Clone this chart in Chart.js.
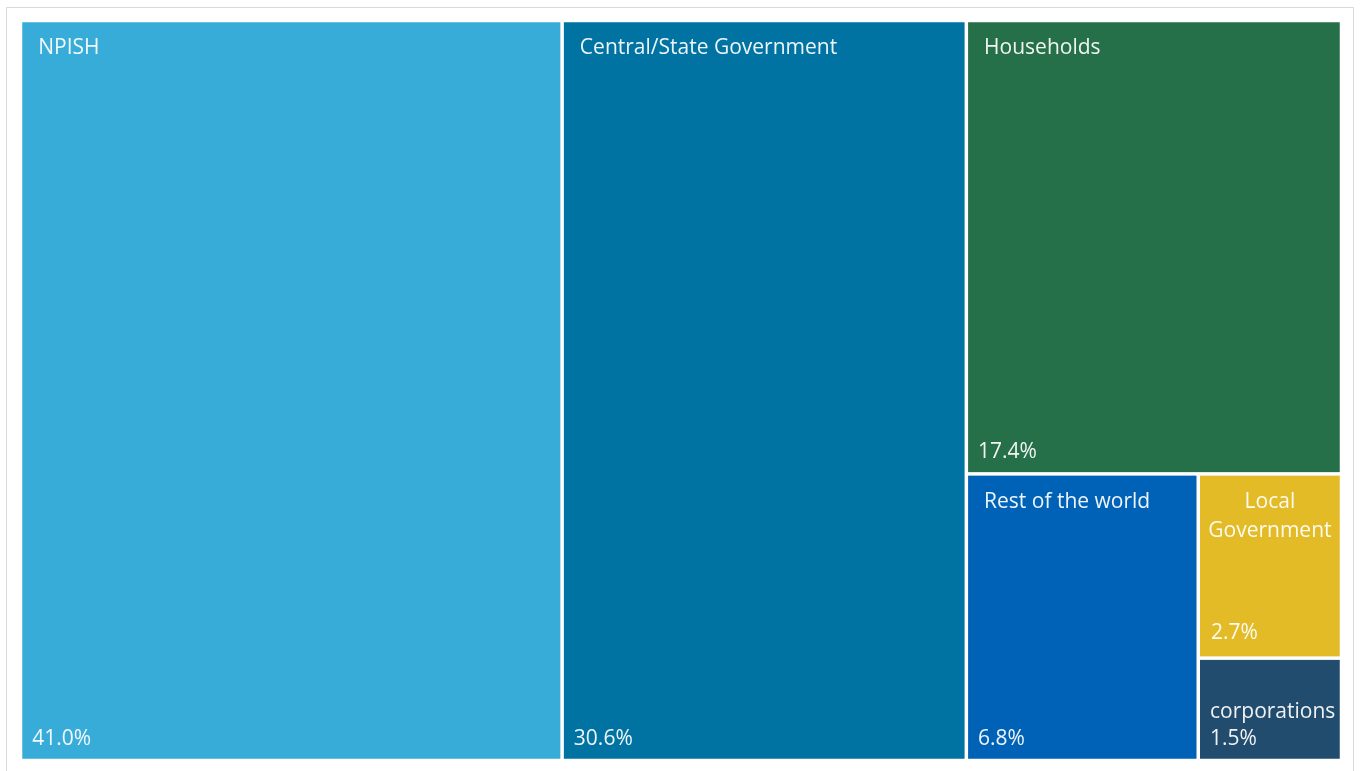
<!DOCTYPE html>
<html>
<head>
<meta charset="utf-8">
<script src="https://cdn.jsdelivr.net/npm/chart.js@4.4.1/dist/chart.umd.min.js"></script>
<style>
  html, body { margin: 0; padding: 0; background: #fff; }
  #frame {
    position: absolute; left: 6px; top: 7px; width: 1348px; height: 780px;
    border: 1px solid #dadada; box-sizing: border-box;
  }
  #treemap { position: absolute; left: 0; top: 0; }
</style>
</head>
<body>
<div id="frame"></div>
<canvas id="treemap" width="1362" height="771"></canvas>
<script>
// Treemap data (share of total, %)
const categories = ['NPISH', 'Central/State Government', 'Households', 'Rest of the world', 'Local Government', 'corporations'];
const shares = [41.0, 30.6, 17.4, 6.8, 2.7, 1.5];
const colors = ['#38acd9', '#0073a3', '#256f49', '#0062b7', '#e2bb26', '#214c6e'];

const FONT = '21px "Open Sans", sans-serif';
const GAP = 1.75;

// squarified layout in a rect of data units
function worst(row, side) {
    const s = row.reduce((a, b) => a + b.area, 0);
    let mx = 0, mn = Infinity;
    row.forEach(r => { mx = Math.max(mx, r.area); mn = Math.min(mn, r.area); });
    return Math.max(side * side * mx / (s * s), (s * s) / (side * side * mn));
}

function layoutRow(row, rect, out) {
    const s = row.reduce((a, b) => a + b.area, 0);
    if (rect.w >= rect.h) {
        const w = s / rect.h;
        let y = rect.y;
        row.forEach(r => {
            const h = r.area / w;
            out.push({ i: r.i, x: rect.x, y: y, w: w, h: h });
            y += h;
        });
        return { x: rect.x + w, y: rect.y, w: rect.w - w, h: rect.h };
    }
    const h = s / rect.w;
    let x = rect.x;
    row.forEach(r => {
        const w = r.area / h;
        out.push({ i: r.i, x: x, y: rect.y, w: w, h: h });
        x += w;
    });
    return { x: rect.x, y: rect.y + h, w: rect.w, h: rect.h - h };
}

function squarify(values, rect) {
    const total = values.reduce((a, b) => a + b, 0);
    const items = values.map((v, i) => ({ i: i, area: v / total * rect.w * rect.h }));
    const out = [];
    let row = [];
    let r = rect;
    while (items.length) {
        const side = Math.min(r.w, r.h);
        const next = items[0];
        if (!row.length || worst(row.concat(next), side) <= worst(row, side)) {
            row.push(next);
            items.shift();
        } else {
            r = layoutRow(row, r, out);
            row = [];
        }
    }
    if (row.length) layoutRow(row, r, out);
    return out;
}

function wrapText(ctx, text, maxW) {
    if (ctx.measureText(text).width <= maxW) return [text];
    const words = text.split(' ');
    const lines = [];
    let cur = '';
    words.forEach(w => {
        const t = cur ? cur + ' ' + w : w;
        if (ctx.measureText(t).width > maxW && cur) {
            lines.push(cur);
            cur = w;
        } else {
            cur = t;
        }
    });
    if (cur) lines.push(cur);
    return lines;
}

const treemapPlugin = {
    id: 'treemap',
    afterDatasetsDraw(chart) {
        const { ctx, chartArea, scales } = chart;
        const aspect = chartArea.width / chartArea.height;
        const cells = squarify(shares, { x: 0, y: 0, w: aspect, h: 1 });
        ctx.save();
        cells.forEach(c => {
            const x0 = scales.x.getPixelForValue(c.x / aspect) + GAP;
            const x1 = scales.x.getPixelForValue((c.x + c.w) / aspect) - GAP;
            const y0 = scales.y.getPixelForValue(c.y) + GAP;
            const y1 = scales.y.getPixelForValue(c.y + c.h) - GAP;
            ctx.fillStyle = colors[c.i];
            ctx.fillRect(x0, y0, x1 - x0, y1 - y0);

            ctx.fillStyle = 'rgba(255,255,255,0.93)';
            ctx.font = FONT;
            ctx.textBaseline = 'middle';
            const name = categories[c.i];
            const pct = shares[c.i].toFixed(1) + '%';
            const w = x1 - x0, h = y1 - y0;
            const lines = wrapText(ctx, name, w - 12);
            if (h < 130) {
                ctx.textAlign = 'left';
                ctx.fillText(name, x0 + 10, y1 - 47);
                ctx.fillText(pct, x0 + 10, y1 - 20);
            } else if (lines.length > 1) {
                ctx.textAlign = 'center';
                lines.forEach((l, k) => ctx.fillText(l, (x0 + x1) / 2, y0 + 26 + k * 29));
                ctx.textAlign = 'left';
                ctx.fillText(pct, x0 + 11, y1 - 23);
            } else {
                ctx.textAlign = 'left';
                ctx.fillText(name, x0 + 16, y0 + 26);
                ctx.fillText(pct, x0 + 10, y1 - 20);
            }
        });
        ctx.restore();
    }
};

new Chart(document.getElementById('treemap'), {
    type: 'scatter',
    data: { datasets: [{ data: [] }] },
    options: {
        responsive: false,
        animation: false,
        layout: { padding: { left: 20.5, right: 20.5, top: 20.5, bottom: 10.5 } },
        plugins: { legend: { display: false }, tooltip: { enabled: false } },
        scales: {
            x: { type: 'linear', min: 0, max: 1, display: false },
            y: { type: 'linear', min: 0, max: 1, reverse: true, display: false }
        }
    },
    plugins: [treemapPlugin]
});
</script>
</body>
</html>
